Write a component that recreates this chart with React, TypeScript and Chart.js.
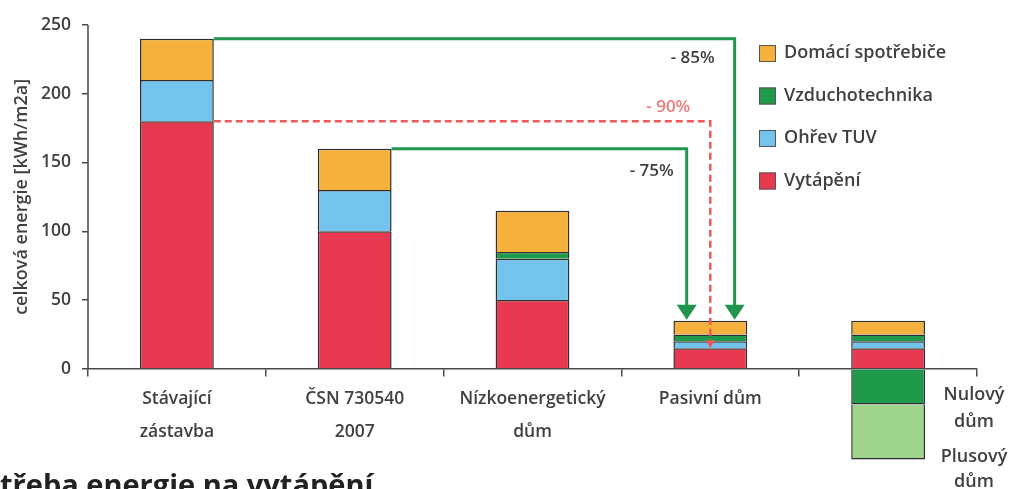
import React, { useEffect, useRef } from 'react';
import { Chart, registerables } from 'chart.js';

Chart.register(...registerables);

// ---- data ----
const categories: (string | string[])[] = [
  ['Stávající', 'zástavba'],
  ['ČSN 730540', '2007'],
  ['Nízkoenergetický', 'dům'],
  'Pasivní dům',
  '',
];
const heating = [180, 100, 50, 15, 15];
const hotWater = [30, 30, 30, 5, 5];
const ventilation = [null, null, 5, 5, 5];
const appliances = [30, 30, 30, 10, 10];
const zeroHouse = [null, null, null, null, -26];
const plusHouse = [null, null, null, null, -40];
const yTicks = [0, 50, 100, 150, 200, 250];
const seriesNames = ['Vytápění', 'Ohřev TUV', 'Vzduchotechnika', 'Domácí spotřebiče'];
const reductions = ['- 85%', '- 90%', '- 75%'];
const sideLabels = [['Nulový', 'dům'], ['Plusový', 'dům']];
const yTitle = 'celková energie [kWh/m2a]';
const footerText = 'třeba energie na vytápění';

// ---- styles ----
const FONT = "'Open Sans', 'DejaVu Sans', sans-serif";
const TEXT = '#404040';
const AXIS = '#4a4a4a';
const BORDER = '#2e2e2e';
const C_RED = '#E7394F';
const C_BLUE = '#74C3EC';
const C_GREEN = '#1E9A4A';
const C_ORANGE = '#F6B13C';
const C_LGREEN = '#9FD48D';
const C_ARROW = '#1F9550';
const C_DASH = '#EE5A5A';

const overlay = {
  id: 'overlay',
  afterDatasetsDraw(chart: any) {
    const ctx = chart.ctx as CanvasRenderingContext2D;
    const red = chart.getDatasetMeta(0).data;
    const top = chart.getDatasetMeta(3).data;
    const b0 = top[0], b1 = top[1], b3 = top[3];
    const r0 = red[0], r3 = red[3];
    const w3 = b3.width;
    const arrowH = 15, arrowW = 20;

    const arrow = (x: number, tipY: number, w: number, h: number, color: string) => {
      ctx.beginPath();
      ctx.moveTo(x - w / 2, tipY - h);
      ctx.lineTo(x + w / 2, tipY - h);
      ctx.lineTo(x, tipY);
      ctx.closePath();
      ctx.fillStyle = color;
      ctx.fill();
    };

    ctx.save();
    // red dashed (-90%)
    const xr = r3.x;
    ctx.strokeStyle = C_DASH;
    ctx.lineWidth = 2.5;
    ctx.setLineDash([7, 4]);
    ctx.beginPath();
    ctx.moveTo(r0.x + r0.width / 2, r0.y);
    ctx.lineTo(xr, r0.y);
    ctx.lineTo(xr, r3.y - 7);
    ctx.stroke();
    ctx.setLineDash([]);
    arrow(xr, r3.y, 9, 8, C_DASH);

    // green (-85%)
    const x85 = b3.x + w3 * 0.33;
    ctx.strokeStyle = C_ARROW;
    ctx.lineWidth = 3;
    ctx.beginPath();
    ctx.moveTo(b0.x + b0.width / 2, b0.y);
    ctx.lineTo(x85, b0.y);
    ctx.lineTo(x85, b3.y - arrowH + 1);
    ctx.stroke();
    arrow(x85, b3.y - 1, arrowW, arrowH, C_ARROW);

    // green (-75%)
    const x75 = b3.x - w3 * 0.32;
    ctx.beginPath();
    ctx.moveTo(b1.x + b1.width / 2, b1.y);
    ctx.lineTo(x75, b1.y);
    ctx.lineTo(x75, b3.y - arrowH + 1);
    ctx.stroke();
    arrow(x75, b3.y - 1, arrowW, arrowH, C_ARROW);

    // labels
    ctx.font = `600 17px ${FONT}`;
    ctx.textAlign = 'right';
    ctx.textBaseline = 'middle';
    ctx.fillStyle = TEXT;
    ctx.fillText(reductions[0], x85 - 20, b0.y + 19);
    ctx.fillStyle = '#F07A7A';
    ctx.fillText(reductions[1], xr - 20, r0.y - 14);
    ctx.fillStyle = TEXT;
    ctx.fillText(reductions[2], x75 - 13, b1.y + 22);
    ctx.restore();
  },
  afterDraw(chart: any) {
    const ctx = chart.ctx as CanvasRenderingContext2D;
    const ys = chart.scales.y;
    const ca = chart.chartArea;
    const y0 = ys.getPixelForValue(0);
    const yMax = ys.getPixelForValue(yTicks[yTicks.length - 1]);
    ctx.save();
    // y axis line
    ctx.strokeStyle = AXIS;
    ctx.lineWidth = 1.5;
    ctx.beginPath();
    ctx.moveTo(ca.left, yMax);
    ctx.lineTo(ca.left, y0 + 1);
    ctx.stroke();

    // y title
    ctx.fillStyle = TEXT;
    ctx.font = `600 18px ${FONT}`;
    ctx.textAlign = 'center';
    ctx.textBaseline = 'middle';
    ctx.translate(22, (y0 + yMax) / 2);
    ctx.rotate(-Math.PI / 2);
    ctx.fillText(yTitle, 0, 0);
    ctx.restore();

    // legend (reverse stacking order)
    ctx.save();
    const lx = ca.right - 218;
    let ly = ca.top + 28;
    ctx.font = `600 18px ${FONT}`;
    ctx.textAlign = 'left';
    ctx.textBaseline = 'middle';
    for (let i = 3; i >= 0; i--) {
      const ds = chart.data.datasets[i];
      ctx.fillStyle = ds.backgroundColor;
      ctx.fillRect(lx, ly - 8, 17, 17);
      ctx.strokeStyle = '#555';
      ctx.lineWidth = 1;
      ctx.strokeRect(lx + 0.5, ly - 7.5, 16, 16);
      ctx.fillStyle = TEXT;
      ctx.fillText(ds.label, lx + 25, ly);
      ly += 42.5;
    }

    // side labels next to last bar
    const sx = ca.right - 3;
    ctx.textAlign = 'center';
    ctx.fillText(sideLabels[0][0], sx, y0 + 26);
    ctx.fillText(sideLabels[0][1], sx, y0 + 53);
    ctx.fillText(sideLabels[1][0], sx, y0 + 88);
    ctx.fillText(sideLabels[1][1], sx, y0 + 113);

    // cut-off heading at the bottom
    ctx.textAlign = 'left';
    ctx.textBaseline = 'alphabetic';
    ctx.fillStyle = '#222';
    ctx.font = `bold 29px ${FONT}`;
    ctx.fillText(footerText, 0, 495);
    ctx.restore();
  },
};

export default function App() {
  const ref = useRef<HTMLCanvasElement>(null);
  useEffect(() => {
    if (!ref.current) return;
    const common = { borderColor: BORDER, borderWidth: 1.5, stack: 's' };
    const chart = new Chart(ref.current, {
      type: 'bar',
      data: {
        labels: categories,
        datasets: [
          { label: seriesNames[0], data: heating, backgroundColor: C_RED, ...common },
          { label: seriesNames[1], data: hotWater, backgroundColor: C_BLUE, ...common },
          { label: seriesNames[2], data: ventilation as any, backgroundColor: C_GREEN, ...common },
          { label: seriesNames[3], data: appliances, backgroundColor: C_ORANGE, ...common },
          { label: sideLabels[0].join(' '), data: zeroHouse as any, backgroundColor: C_GREEN, ...common },
          { label: sideLabels[1].join(' '), data: plusHouse as any, backgroundColor: C_LGREEN, ...common },
        ],
      },
      options: {
        animation: false,
        responsive: false,
        devicePixelRatio: 1,
        layout: { padding: { left: 8, right: 32, top: 25, bottom: 24 } },
        datasets: { bar: { categoryPercentage: 1, barPercentage: 0.415 } },
        plugins: { legend: { display: false }, tooltip: { enabled: false } },
        scales: {
          x: {
            stacked: true,
            position: { y: 0 } as any,
            border: { display: true, color: AXIS, width: 1.5 },
            grid: { display: true, drawOnChartArea: false, drawTicks: true, tickLength: 7, color: AXIS, lineWidth: 1.5, offset: true },
            ticks: {
              color: TEXT,
              padding: 7,
              maxRotation: 0,
              autoSkip: false,
              font: { family: FONT, size: 17.5, weight: '600' as any, lineHeight: '33px' as any },
            },
          },
          y: {
            stacked: true,
            min: -70,
            max: 250,
            afterFit: (s: any) => { s.width = 80; },
            afterBuildTicks: (s: any) => { s.ticks = yTicks.map((v) => ({ value: v })); },
            border: { display: false },
            grid: { display: true, drawOnChartArea: false, drawTicks: true, tickLength: 6, color: AXIS, lineWidth: 1.5 },
            ticks: { color: TEXT, padding: 11, font: { family: FONT, size: 17.5, weight: '600' as any } },
          },
        },
      },
      plugins: [overlay],
    });
    return () => chart.destroy();
  }, []);
  return (
    <div style={{ position: 'fixed', left: 0, top: 0, width: 1009, height: 489, overflow: 'hidden', background: '#fff' }}>
      <canvas ref={ref} width={1009} height={489} style={{ display: 'block' }} />
    </div>
  );
}
